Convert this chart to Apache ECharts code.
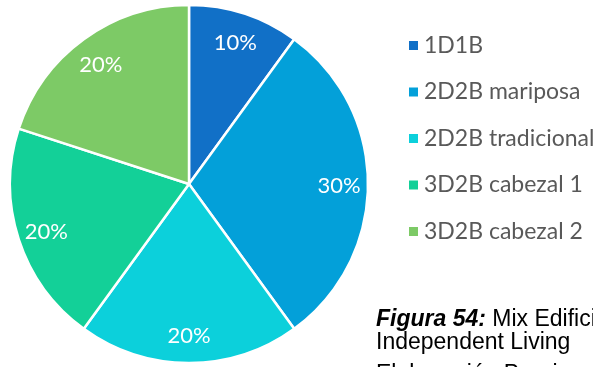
<!DOCTYPE html>
<html>
<head>
<meta charset="utf-8">
<script src="https://cdn.jsdelivr.net/npm/echarts@6/dist/echarts.min.js"></script>
<style>
  html, body { margin: 0; padding: 0; background: #ffffff; }
  #chart { width: 593px; height: 367px; }
</style>
</head>
<body>
<div id="chart"></div>
<script>
// Unit mix of the building, share per typology
const categories = ['1D1B', '2D2B mariposa', '2D2B tradicional', '3D2B cabezal 1', '3D2B cabezal 2'];
const shares = [10, 30, 20, 20, 20];
const colors = ['#1170C7', '#03A0D9', '#0CD0DB', '#13D098', '#7DCA66'];

const pieData = categories.map((name, i) => ({ name, value: shares[i] }));
const labelFont = 'Lato, "Open Sans", sans-serif';
const captionFont = 'Arial, "Liberation Sans", sans-serif';

const chart = echarts.init(document.getElementById('chart'), null, { renderer: 'canvas' });

chart.setOption({
  animation: false,
  color: colors,
  legend: {
    orient: 'vertical',
    left: 402,
    top: 29,
    icon: 'rect',
    itemWidth: 11,
    itemHeight: 11,
    itemGap: 23.5,
    selectedMode: false,
    data: categories.map((name, i) => ({ name, itemStyle: { color: colors[i] } })),
    textStyle: {
      fontFamily: labelFont,
      fontSize: 23,
      lineHeight: 23,
      color: '#595959'
    }
  },
  series: [
    {
      // the slices
      type: 'pie',
      center: [189, 184],
      radius: [0, 179],
      startAngle: 90,
      clockwise: true,
      silent: true,
      label: { show: false },
      labelLine: { show: false },
      itemStyle: { borderColor: '#ffffff', borderWidth: 2.5 },
      data: pieData
    },
    {
      // ring used only to place the percentage labels near the rim
      type: 'pie',
      center: [189, 186],
      radius: [118, 176],
      startAngle: 90,
      clockwise: true,
      silent: true,
      legendHoverLink: false,
      itemStyle: { color: 'rgba(0,0,0,0)', borderWidth: 0 },
      label: {
        show: true,
        position: 'inside',
        formatter: p => p.value + '%',
        color: '#ffffff',
        fontFamily: labelFont,
        fontSize: 22
      },
      labelLine: { show: false },
      data: pieData
    }
  ],
  graphic: [
    {
      type: 'text',
      left: 376,
      top: 308,
      style: {
        text: '{b|Figura 54:} Mix Edificio',
        fontFamily: captionFont,
        fontSize: 23,
        fill: '#000000',
        rich: {
          b: {
            fontFamily: captionFont,
            fontSize: 23,
            fontWeight: 'bold',
            fontStyle: 'italic',
            fill: '#000000'
          }
        }
      }
    },
    {
      type: 'text',
      left: 376,
      top: 331,
      style: {
        text: 'Independent Living',
        fontFamily: captionFont,
        fontSize: 23,
        fill: '#000000'
      }
    },
    {
      type: 'text',
      left: 376,
      top: 363,
      style: {
        text: 'Elaboración Propia',
        fontFamily: captionFont,
        fontSize: 23,
        fill: '#000000'
      }
    }
  ]
});
</script>
</body>
</html>
